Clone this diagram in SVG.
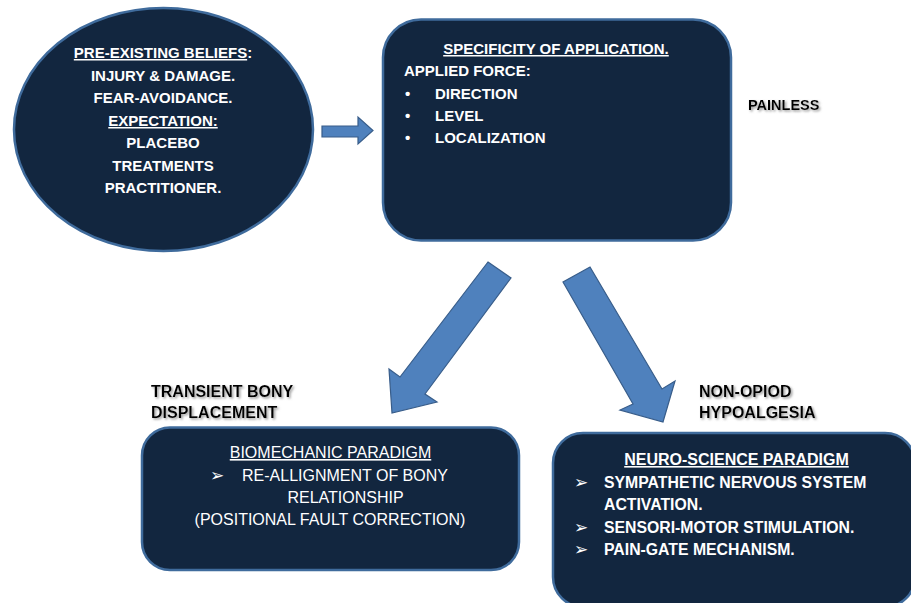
<svg xmlns="http://www.w3.org/2000/svg" width="911" height="603" viewBox="0 0 911 603">
<style>
.node{fill:#12263f;stroke:#3f6b9c;stroke-width:2.5}
.arrow{fill:#4f81bd;stroke:#385d8a;stroke-width:1.2;stroke-linejoin:miter}
.w{fill:#ffffff;font-family:"Liberation Sans",Arial,sans-serif;font-size:15px;font-weight:bold}
.wr{fill:#ffffff;font-family:"Liberation Sans",Arial,sans-serif;font-size:16px}
.b{fill:#000000;font-family:"Liberation Sans",Arial,sans-serif;font-size:16px;font-weight:bold}
.c{text-anchor:middle}
.sym{font-family:"DejaVu Sans",sans-serif;font-weight:normal;font-size:17px}
</style>
<defs>
<filter id="sh" x="-10%" y="-30%" width="130%" height="170%">
<feDropShadow dx="1.5" dy="1.5" stdDeviation="0.8" flood-color="#7f7f7f" flood-opacity="0.8"/>
</filter>
</defs>
<rect width="911" height="603" fill="#ffffff"/>
<g id="connectors">
<polygon class="arrow" points="322,126 358,126 358,117 373,130.5 358,144 358,137 322,137"/>
<polygon class="arrow" points="488,262 511,278 425,394 437,402 392,413 389,369 400,377"/>
<polygon class="arrow" points="590,267 662,389 675,381 663,422 620,410 633,404 563,282"/>
</g>
<g id="beliefs">
<ellipse class="node" cx="163.5" cy="129.5" rx="149.5" ry="121.5"/>
<text class="w c" x="163" y="58"><tspan text-decoration="underline">PRE-EXISTING BELIEFS</tspan>:</text>
<text class="w c" x="163" y="81">INJURY &amp; DAMAGE.</text>
<text class="w c" x="163" y="103">FEAR-AVOIDANCE.</text>
<text class="w c" x="163" y="126" text-decoration="underline">EXPECTATION:</text>
<text class="w c" x="163" y="148">PLACEBO</text>
<text class="w c" x="163" y="171">TREATMENTS</text>
<text class="w c" x="163" y="193">PRACTITIONER.</text>
</g>
<g id="specificity">
<rect class="node" x="383" y="19.5" width="348" height="221" rx="38"/>
<text class="w c" x="556" y="54" text-decoration="underline">SPECIFICITY OF APPLICATION.</text>
<text class="w" x="404" y="76">APPLIED FORCE:</text>
<text class="w" x="405" y="98.5">•</text><text class="w" x="435" y="98.5">DIRECTION</text>
<text class="w" x="405" y="121">•</text><text class="w" x="435" y="121">LEVEL</text>
<text class="w" x="405" y="143">•</text><text class="w" x="435" y="143">LOCALIZATION</text>
</g>
<g id="painless">
<text class="b" x="748" y="110" style="font-size:14.5px" filter="url(#sh)">PAINLESS</text>
</g>
<g id="transient">
<text class="b" x="151" y="396.5" filter="url(#sh)">TRANSIENT BONY</text>
<text class="b" x="151" y="417.5" filter="url(#sh)">DISPLACEMENT</text>
</g>
<g id="nonopiod">
<text class="b" x="699" y="396.5" filter="url(#sh)">NON-OPIOD</text>
<text class="b" x="699" y="417.5" filter="url(#sh)">HYPOALGESIA</text>
</g>
<g id="biomechanic">
<rect class="node" x="142" y="427.5" width="377" height="142.5" rx="28"/>
<text class="wr c" x="330.5" y="458" text-decoration="underline">BIOMECHANIC PARADIGM</text>
<text class="wr sym" x="210" y="481">➢</text>
<text class="wr" x="242" y="481">RE-ALLIGNMENT OF BONY</text>
<text class="wr c" x="345.5" y="502.5">RELATIONSHIP</text>
<text class="wr c" x="330" y="525">(POSITIONAL FAULT CORRECTION)</text>
</g>
<g id="neuroscience">
<rect class="node" x="553" y="433" width="362" height="174" rx="30"/>
<text class="w c" x="736.5" y="465" style="font-size:16px" text-decoration="underline">NEURO-SCIENCE PARADIGM</text>
<text class="w sym" x="574" y="488">➢</text>
<text class="w" x="604" y="487.5" style="font-size:15.8px">SYMPATHETIC NERVOUS SYSTEM</text>
<text class="w" x="604" y="509.5" style="font-size:15.8px">ACTIVATION.</text>
<text class="w sym" x="574" y="533">➢</text>
<text class="w" x="604" y="532.5" style="font-size:15.8px">SENSORI-MOTOR STIMULATION.</text>
<text class="w sym" x="574" y="555">➢</text>
<text class="w" x="604" y="554.5" style="font-size:15.8px">PAIN-GATE MECHANISM.</text>
</g>
</svg>
